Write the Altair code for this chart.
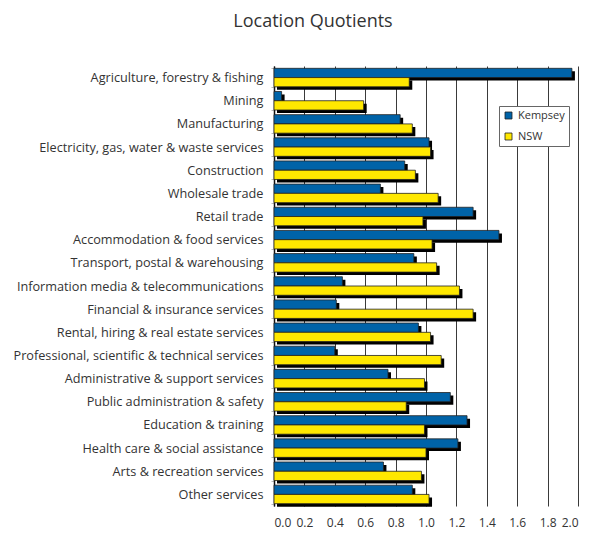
import altair as alt
import pandas as pd

categories = [
    "Agriculture, forestry & fishing",
    "Mining",
    "Manufacturing",
    "Electricity, gas, water & waste services",
    "Construction",
    "Wholesale trade",
    "Retail trade",
    "Accommodation & food services",
    "Transport, postal & warehousing",
    "Information media & telecommunications",
    "Financial & insurance services",
    "Rental, hiring & real estate services",
    "Professional, scientific & technical services",
    "Administrative & support services",
    "Public administration & safety",
    "Education & training",
    "Health care & social assistance",
    "Arts & recreation services",
    "Other services",
]
kempsey = [1.96, 0.05, 0.83, 1.02, 0.86, 0.70, 1.31, 1.48, 0.92, 0.45, 0.41, 0.95, 0.40, 0.75, 1.16, 1.27, 1.21, 0.72, 0.91]
nsw = [0.89, 0.59, 0.91, 1.03, 0.93, 1.08, 0.98, 1.04, 1.07, 1.22, 1.31, 1.03, 1.10, 0.99, 0.87, 0.99, 1.00, 0.97, 1.02]
series = ["Kempsey", "NSW"]
colors = ["#0063A8", "#FFE800"]
x_ticks = [0.0, 0.2, 0.4, 0.6, 0.8, 1.0, 1.2, 1.4, 1.6, 1.8, 2.0]

rows = []
for c, k, n in zip(categories, kempsey, nsw):
    rows.append({"Industry": c, "Series": "Kempsey", "LQ": k})
    rows.append({"Industry": c, "Series": "NSW", "LQ": n})
df = pd.DataFrame(rows)

FONT = "Open Sans"

y_enc = alt.Y(
    "Industry:N",
    sort=categories,
    title=None,
    scale=alt.Scale(paddingInner=0.2, paddingOuter=0.1),
    axis=alt.Axis(
        labelFontSize=12.7,
        labelColor="#333333",
        labelFont=FONT,
        labelLimit=400,
        labelPadding=8,
        tickSize=3,
        tickColor="#bbbbbb",
        tickBand="extent",
        domainColor="#111111",
        domainWidth=1.5,
        minExtent=259,
        maxExtent=259,
        grid=False,
    ),
)
x_enc = alt.X(
    "LQ:Q",
    title=None,
    scale=alt.Scale(domain=[0, 2], nice=False),
    axis=alt.Axis(
        values=x_ticks,
        format=".1f",
        labelFontSize=12,
        labelColor="#333333",
        labelFont=FONT,
        labelPadding=11,
        tickSize=0,
        domain=False,
        grid=True,
        gridColor="#3a3a3a",
        gridWidth=1,
    ),
)

shadow = alt.Chart(df).mark_bar(color="black", xOffset=3).encode(
    x=x_enc,
    y=y_enc,
    yOffset=alt.YOffset("Series:N", sort=series, scale=alt.Scale(range=[3, 21.5])),
)

bars = alt.Chart(df).mark_bar(stroke="#222222", strokeWidth=0.8).encode(
    x=x_enc,
    y=y_enc,
    yOffset=alt.YOffset("Series:N", sort=series),
    color=alt.Color(
        "Series:N",
        sort=series,
        scale=alt.Scale(domain=series, range=colors),
        legend=alt.Legend(
            title=None,
            orient="none",
            legendX=225,
            legendY=40,
            symbolType="square",
            symbolSize=49,
            symbolStrokeColor="#222222",
            symbolStrokeWidth=0.8,
            labelFont=FONT,
            labelFontSize=11,
            labelColor="#333333",
            labelOffset=4,
            rowPadding=9,
            padding=4,
            strokeColor="#666666",
            fillColor="white",
            cornerRadius=0,
        ),
    ),
)

chart = (
    alt.layer(shadow, bars)
    .resolve_scale(yOffset="independent")
    .properties(
        width=304,
        height=440,
        title=alt.TitleParams(
            "Location Quotients",
            font=FONT,
            fontSize=18,
            fontWeight="normal",
            color="#333333",
            anchor="middle",
            frame="group",
            dx=-113,
            offset=29,
        ),
    )
    .configure_view(strokeWidth=0)
)

chart.save("out.html", embed_options={"renderer": "svg", "actions": False})
